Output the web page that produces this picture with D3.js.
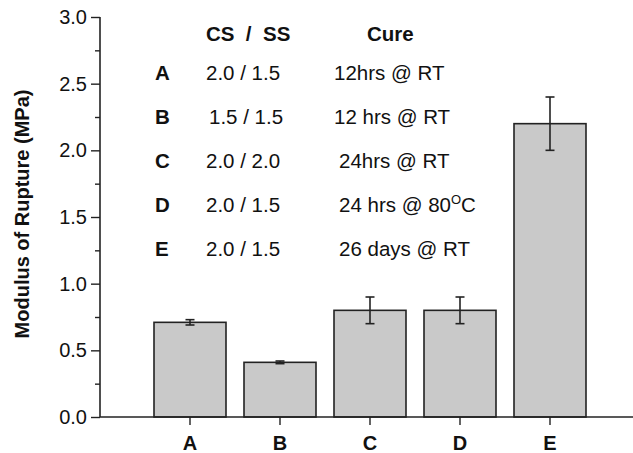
<!DOCTYPE html>
<html>
<head>
<meta charset="utf-8">
<script src="https://cdn.jsdelivr.net/npm/d3@7"></script>
<style>
  body { margin: 0; background: #fff; }
  svg text { font-family: Arial, "Liberation Sans", sans-serif; fill: #111; }
</style>
</head>
<body>
<div id="chart"></div>
<script>
// bar data
const categories = ["A", "B", "C", "D", "E"];
const moduli = [0.71, 0.41, 0.80, 0.80, 2.20];
const errors = [0.02, 0.01, 0.10, 0.10, 0.20];

// legend table
const legendKeys = ["A", "B", "C", "D", "E"];
const legendRatios = ["2.0 / 1.5", "1.5 / 1.5", "2.0 / 2.0", "2.0 / 1.5", "2.0 / 1.5"];
const legendCures = ["12hrs @ RT", "12 hrs @ RT", "24hrs @ RT", "24 hrs @ 80", "26 days @ RT"];

const yTicks = [0, 0.5, 1.0, 1.5, 2.0, 2.5, 3.0];

const width = 633, height = 453;
const plotLeft = 100, plotRight = 640, plotTop = 17, plotBottom = 417;

const svg = d3.select("#chart").append("svg")
    .attr("width", width)
    .attr("height", height);

const x = d3.scaleBand()
    .domain(categories)
    .range([plotLeft, plotRight])
    .paddingInner(0.2)
    .paddingOuter(0.6);

const y = d3.scaleLinear()
    .domain([0, 3])
    .range([plotBottom, plotTop]);

// bars
svg.selectAll("rect.bar")
    .data(moduli)
    .enter().append("rect")
    .attr("class", "bar")
    .attr("x", (d, i) => x(categories[i]))
    .attr("y", d => y(d))
    .attr("width", x.bandwidth())
    .attr("height", d => y(0) - y(d))
    .attr("fill", "#c9c9c9")
    .attr("stroke", "#222")
    .attr("stroke-width", 1.6);

// error bars
const errG = svg.append("g").attr("stroke", "#222").attr("stroke-width", 1.6);
moduli.forEach(function(v, i) {
    const cx = x(categories[i]) + x.bandwidth() / 2;
    const y1 = y(v + errors[i]), y2 = y(v - errors[i]);
    errG.append("line").attr("x1", cx).attr("x2", cx).attr("y1", y1).attr("y2", y2);
    errG.append("line").attr("x1", cx - 4.5).attr("x2", cx + 4.5).attr("y1", y1).attr("y2", y1);
    errG.append("line").attr("x1", cx - 4.5).attr("x2", cx + 4.5).attr("y1", y2).attr("y2", y2);
});

// y axis
const yAxis = svg.append("g")
    .attr("transform", "translate(" + plotLeft + ",0)")
    .call(d3.axisLeft(y).tickValues(yTicks).tickFormat(d3.format(".1f")).tickSize(9).tickPadding(4));
yAxis.select(".domain").attr("stroke", "#222").attr("stroke-width", 1.6).attr("d", "M0," + plotTop + "V" + plotBottom);
yAxis.selectAll(".tick line").attr("stroke", "#222").attr("stroke-width", 1.4);
yAxis.selectAll(".tick text").style("font-size", "20px").attr("fill", "#111");

// minor y ticks
const minor = svg.append("g").attr("transform", "translate(" + plotLeft + ",0)")
    .call(d3.axisLeft(y).tickValues([0.25, 0.75, 1.25, 1.75, 2.25, 2.75]).tickSize(5).tickFormat(""));
minor.select(".domain").remove();
minor.selectAll(".tick line").attr("stroke", "#222").attr("stroke-width", 1.4);

// x axis
const xAxis = svg.append("g")
    .attr("transform", "translate(0," + plotBottom + ")")
    .call(d3.axisBottom(x).tickSize(8).tickPadding(11));
xAxis.select(".domain").attr("stroke", "#222").attr("stroke-width", 1.6).attr("d", "M" + plotLeft + ",0H" + plotRight);
xAxis.selectAll(".tick line").attr("stroke", "#222").attr("stroke-width", 1.4);
xAxis.selectAll(".tick text").style("font-size", "20px").style("font-weight", "bold").attr("fill", "#111");

// y axis title
svg.append("text")
    .attr("transform", "translate(29,214) rotate(-90)")
    .attr("text-anchor", "middle")
    .style("font-size", "20px")
    .style("font-weight", "bold")
    .text("Modulus of Rupture (MPa)");

// legend table
const rowY0 = 80, rowStep = 44;
svg.append("text").attr("x", 206).attr("y", 41)
    .style("font-size", "20.5px").style("font-weight", "bold")
    .attr("xml:space", "preserve").text("CS  /  SS");
svg.append("text").attr("x", 367).attr("y", 41)
    .style("font-size", "20.5px").style("font-weight", "bold").text("Cure");

const cureX = [334, 334, 339, 339, 339];
legendKeys.forEach(function(k, i) {
    const yy = rowY0 + i * rowStep;
    svg.append("text").attr("x", 155).attr("y", yy)
        .style("font-size", "20.5px").style("font-weight", "bold").text(k);
    svg.append("text").attr("x", i === 1 ? 209 : 206).attr("y", yy)
        .style("font-size", "20.5px").text(legendRatios[i]);
    const t = svg.append("text").attr("x", cureX[i]).attr("y", yy)
        .style("font-size", "20.5px").text(legendCures[i]);
    if (k === "D") {
        t.append("tspan").attr("dy", -8).style("font-size", "13px").text("O");
        t.append("tspan").attr("dy", 8).text("C");
    }
});
</script>
</body>
</html>
